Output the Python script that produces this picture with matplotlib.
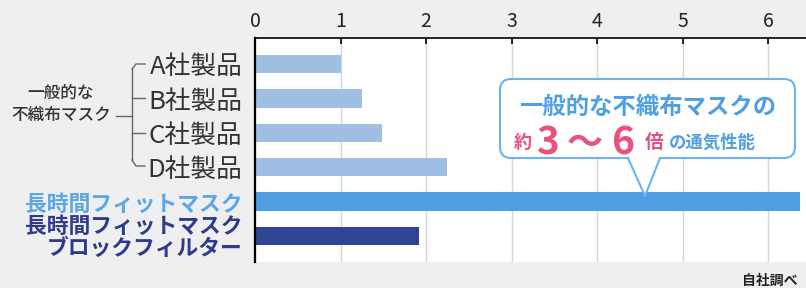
import numpy as np
import matplotlib.pyplot as plt
from matplotlib.patches import FancyBboxPatch, Polygon

plt.rcParams['font.family'] = ['Noto Sans CJK JP', 'DejaVu Sans']

# data
labels = ['A社製品', 'B社製品', 'C社製品', 'D社製品',
          '長時間フィットマスク', '長時間フィットマスク\nブロックフィルター']
values = [1.0, 1.25, 1.48, 2.24, 6.37, 1.92]
bar_colors = ['#a0bfe4', '#a0bfe4', '#a0bfe4', '#a0bfe4', '#519de2', '#2f4593']
label_colors = ['#333333', '#333333', '#333333', '#333333', '#5aa6e6', '#2c3b8c']
xticks = [0, 1, 2, 3, 4, 5, 6]
group_label = '一般的な\n不織布マスク'
note_line1 = '一般的な不織布マスクの'
note_line2 = ['約', '3', '〜', '6', '倍', 'の通気性能']
source = '自社調べ'

W, H = 806, 288
fig = plt.figure(figsize=(W / 100, H / 100), dpi=100)
fig.patch.set_facecolor('#efefef')

ax = fig.add_axes([255 / W, 1 - 262 / H, 1 - 255 / W, 224 / H])
y = np.arange(len(values))
ax.barh(y, values, height=0.54, color=bar_colors, zorder=2)
ax.set_xlim(0, (W - 255) / 85.5)
ax.set_ylim(len(values) - 1 + 0.76, -0.76)
ax.set_facecolor('white')
ax.grid(axis='x', color='#d6d6d6', lw=1)
ax.set_axisbelow(True)

ax.xaxis.tick_top()
ax.set_xticks(xticks)
ax.tick_params(axis='x', direction='in', length=4, width=1.2, color='black',
               labelsize=14, pad=4, labelcolor='#222222')
ax.set_yticks(y, labels)
ax.tick_params(axis='y', length=0, pad=9)
for lab, c, i in zip(ax.get_yticklabels(), label_colors, range(len(labels))):
    lab.set_color(c)
    if i < 4:
        lab.set_fontsize(18.5)
    else:
        lab.set_fontsize(15.7)
        lab.set_fontweight('bold')
        lab.set_linespacing(0.92)
for s in ['right', 'bottom']:
    ax.spines[s].set_visible(False)
ax.spines['top'].set_linewidth(1.2)
ax.spines['left'].set_linewidth(1.6)

# overlay in pixel coords for bracket, callout, note
ov = fig.add_axes([0, 0, 1, 1])
ov.set_xlim(0, W)
ov.set_ylim(H, 0)
ov.axis('off')
ov.patch.set_alpha(0)

gc = '#666666'
ov.plot([132, 132], [69, 160], color=gc, lw=1)
ov.plot([132, 136, 145], [69, 64, 64], color=gc, lw=1)
ov.plot([132, 136, 145], [160, 166, 166], color=gc, lw=1)
ov.plot([132, 145], [98, 98], color=gc, lw=1)
ov.plot([132, 145], [133, 133], color=gc, lw=1)
ov.plot([116, 132], [116, 116], color=gc, lw=1)
ov.text(61, 104, group_label, ha='center', va='center', fontsize=12,
        fontweight=500, color='#333333', linespacing=1.35)

bc = '#6cb4ea'
box = FancyBboxPatch((500, 79), 295, 79, boxstyle='round,pad=0,rounding_size=11',
                     facecolor='white', edgecolor=bc, lw=1.5, zorder=3)
ov.add_patch(box)
ov.add_patch(Polygon([(629, 157), (659, 157), (645, 196)], closed=True,
                     facecolor='white', edgecolor='none', zorder=4))
ov.plot([628, 645, 660], [158, 196, 158], color=bc, lw=1.5, zorder=5)

blue = '#4f9fe2'
pink = '#e9527f'
ov.text(648, 107, note_line1, ha='center', va='center', fontsize=16.8,
        fontweight='bold', color=blue, zorder=6)
xs = [523, 547, 585, 623, 654, 712]
sizes = [13, 28, 26, 28, 13.5, 12.5]
cols = [pink, pink, pink, pink, pink, blue]
for s, x, fs, c in zip(note_line2, xs, sizes, cols):
    ov.text(x, 143, s, ha='center', va='center', fontsize=fs,
            fontweight='bold', color=c, zorder=6)

ov.text(742, 281, source, ha='left', va='center', fontsize=10,
        fontweight='bold', color='#222222')

fig.savefig('out.png', dpi=100, facecolor=fig.get_facecolor())
